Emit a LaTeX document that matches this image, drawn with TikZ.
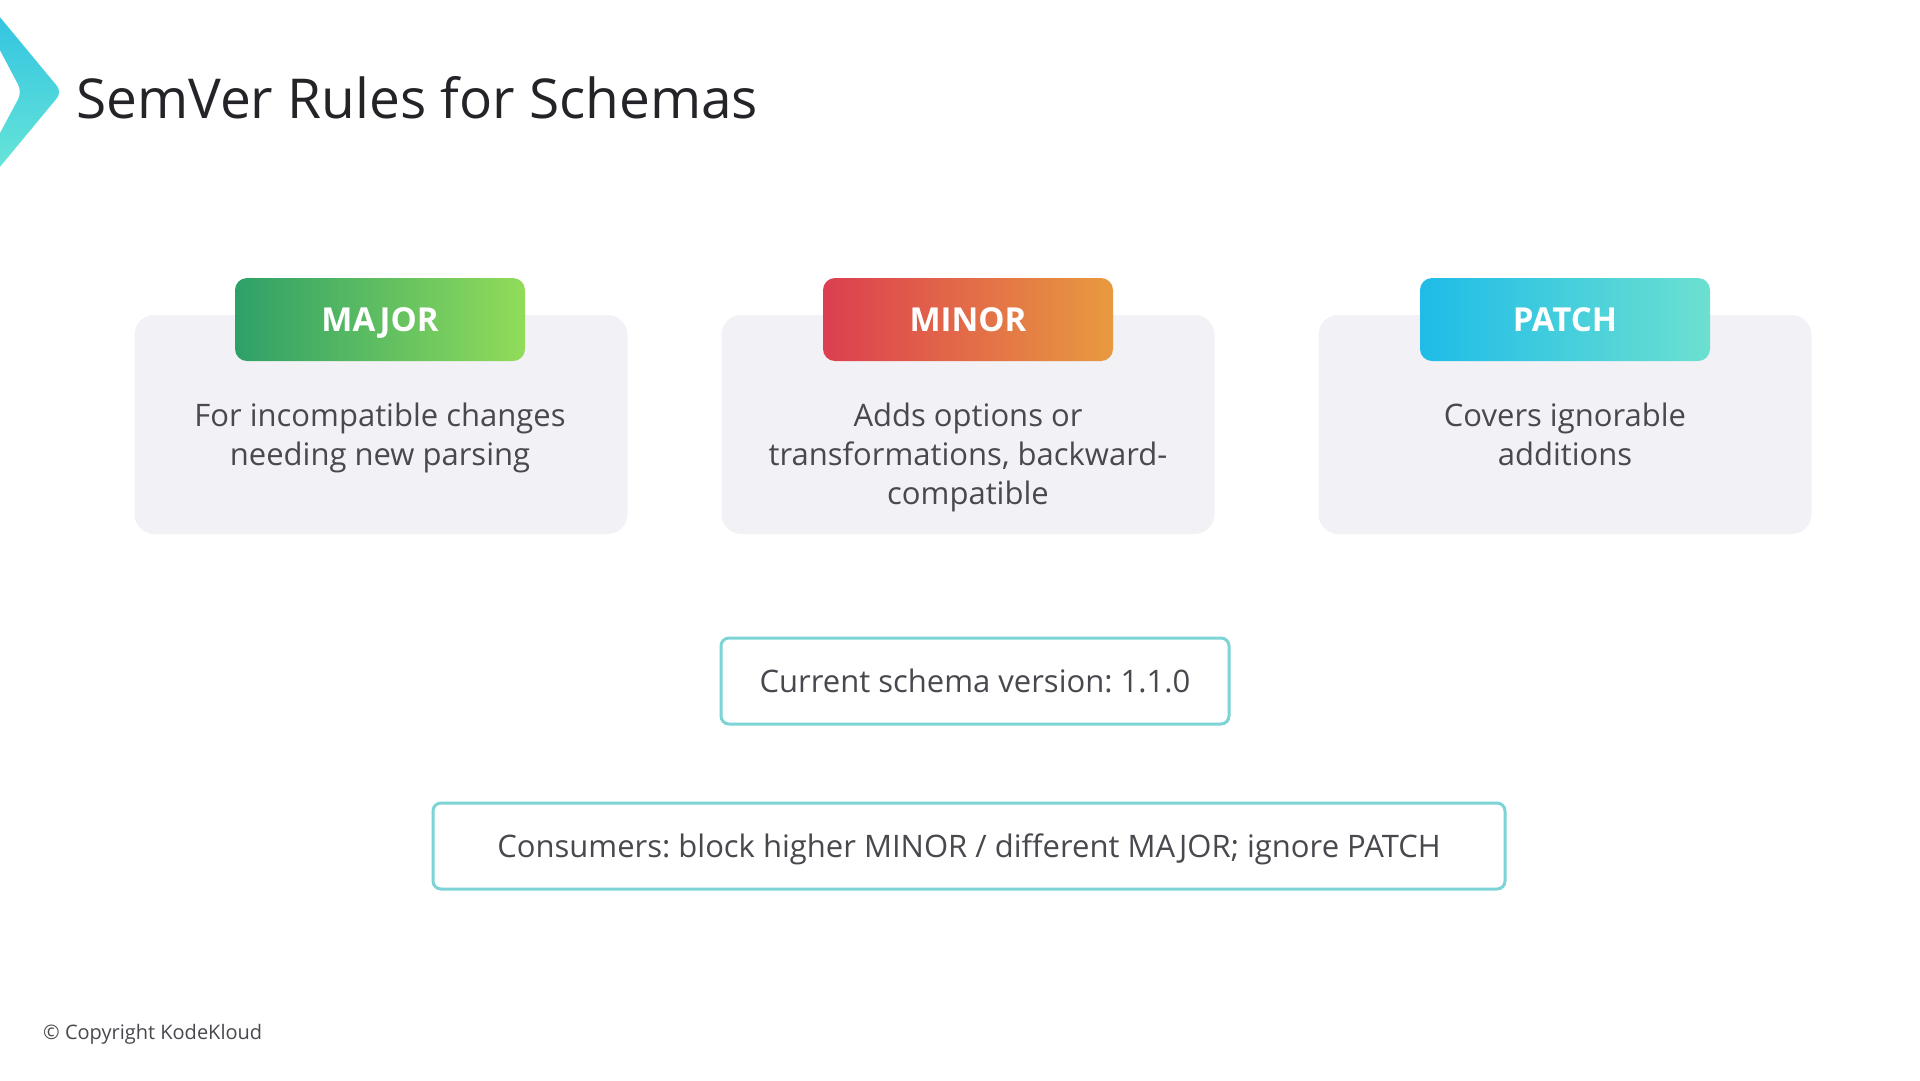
\documentclass[tikz,border=0pt]{standalone}
\usepackage{fontspec}
\setmainfont{Open Sans}
\usepackage{xcolor}
\usetikzlibrary{positioning}
\frenchspacing
\definecolor{cardgray}{RGB}{242, 241, 245}
\definecolor{textgray}{RGB}{72, 72, 78}
\definecolor{titleblack}{RGB}{35, 35, 40}
\definecolor{boxteal}{RGB}{125, 212, 214}
\definecolor{majleft}{RGB}{46, 160, 104}
\definecolor{majright}{RGB}{145, 220, 90}
\definecolor{minleft}{RGB}{220, 62, 80}
\definecolor{minright}{RGB}{232, 154, 64}
\definecolor{patleft}{RGB}{30, 188, 232}
\definecolor{patright}{RGB}{108, 224, 208}
\definecolor{logotop}{RGB}{39, 189, 227}
\definecolor{logobottom}{RGB}{114, 236, 214}

\begin{document}
\begin{tikzpicture}[
    x=1pt, y=-1pt,
    card/.style={rectangle, rounded corners=20pt, fill=cardgray, minimum width=493pt, minimum height=219pt, inner sep=0pt},
    badge/.style={rectangle, rounded corners=12pt, minimum width=290pt, minimum height=83pt, text height=24pt, text depth=0pt, text=white, font=\fontsize{33}{33}\selectfont\bfseries},
    desc/.style={inner sep=0pt, text=textgray, align=center, font=\fontsize{31}{39}\selectfont},
    note/.style={rectangle, rounded corners=8pt, draw=boxteal, line width=3pt, fill=white, minimum height=86pt, text height=22pt, text depth=0pt, text=textgray, font=\fontsize{31}{36}\selectfont}
]
\useasboundingbox[fill=white] (0,0) rectangle (1920,1080);

% Logo and title
\shade[top color=logotop, bottom color=logobottom, rounded corners=8pt]
    (-30,-19) -- (62,92) -- (-30,203) -- (-30,189) -- (22,92) -- (-30,-7) -- cycle;
\node[anchor=base west, inner sep=0pt, text=titleblack, font=\fontsize{55}{55}\selectfont] (title) at (76,118) {SemVer Rules for Schemas};

% Cards
\node[card] (majcard) at (381,424.5) {};
\node[card] (mincard) at (968,424.5) {};
\node[card] (patcard) at (1565,424.5) {};

% Badges
\node[badge, left color=majleft, right color=majright] (majbadge) at (380,319.5) {MAJOR};
\node[badge, left color=minleft, right color=minright] (minbadge) at (968,319.5) {MINOR};
\node[badge, left color=patleft, right color=patright] (patbadge) at (1565,319.5) {PATCH};

% Descriptions
\node[desc, below=42pt of majbadge] (majdesc) {For incompatible changes\\needing new parsing};
\node[desc, below=42pt of minbadge] (mindesc) {Adds options or\\transformations, backward-\\compatible};
\node[desc, below=42pt of patbadge] (patdesc) {Covers ignorable\\additions};

% Notes
\node[note, minimum width=508pt] (version) at (975,681) {Current schema version: 1.1.0};
\node[note, minimum width=1072pt] (consumers) at (969,846) {Consumers: block higher MINOR / different MAJOR; ignore PATCH};

% Footer
\node[anchor=base west, inner sep=0pt, text=textgray, font=\fontsize{20}{20}\selectfont] (copyright) at (43,1039) {© Copyright KodeKloud};
\end{tikzpicture}
\end{document}
